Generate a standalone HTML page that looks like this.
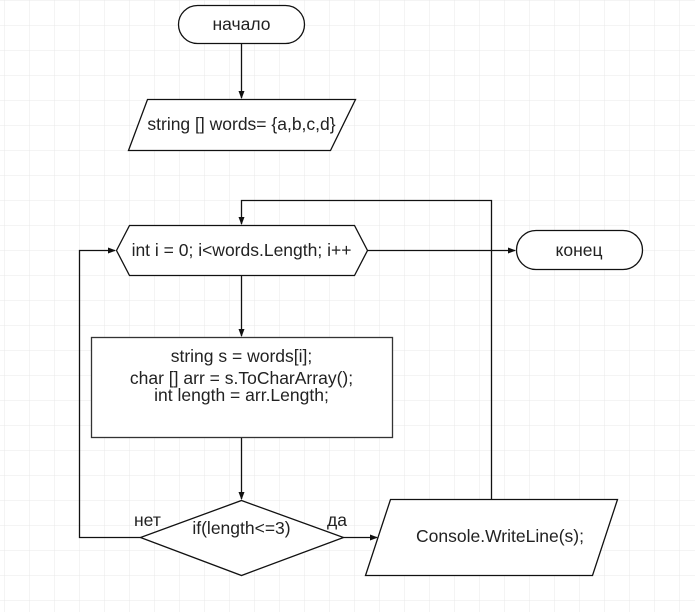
<!DOCTYPE html>
<html><head><meta charset="utf-8"><style>
html,body{margin:0;padding:0;background:#fff;}
svg{display:block;}
text{font-family:"Liberation Sans",Arial,sans-serif;font-size:17.5px;fill:#222;}
</style></head><body>
<svg width="695" height="612" viewBox="0 0 695 612" xmlns="http://www.w3.org/2000/svg">
<defs>
<pattern id="g" x="4" y="0" width="25" height="25" patternUnits="userSpaceOnUse">
<path d="M0 0H25M0 0V25" stroke="#e8e8e8" stroke-width="1" fill="none"/>
</pattern>
<marker id="a" markerWidth="8" markerHeight="8" refX="7" refY="4" orient="auto" markerUnits="userSpaceOnUse">
<path d="M0 1L8 4L0 7Z" fill="#111"/>
</marker>
</defs>
<rect x="0" y="0" width="695" height="612" fill="url(#g)"/>
<g fill="#fff" stroke="#111" stroke-width="1.3">
<rect x="178.5" y="5.5" width="126" height="38" rx="19"/>
<polygon points="147.5,99.5 355.5,99.5 330.5,150.5 128.5,150.5"/>
<polygon points="116.5,250.5 129.5,225.5 354.5,225.5 367.5,250.5 354.5,275.5 129.5,275.5"/>
<rect x="516.5" y="230.5" width="126" height="39" rx="19.5"/>
<rect x="91.5" y="337.5" width="301" height="100" stroke="#333"/>
<polygon points="241.5,500.5 343.5,537.5 241.5,575.5 140.5,537.5"/>
<polygon points="390.5,499.5 617.5,499.5 592.5,575.5 365.5,575.5"/>
</g>
<g fill="none" stroke="#111" stroke-width="1.3">
<path d="M241.5 44V98" marker-end="url(#a)"/>
<path d="M241.5 276V336" marker-end="url(#a)"/>
<path d="M241.5 438V499" marker-end="url(#a)"/>
<path d="M367.5 250.5H515" marker-end="url(#a)"/>
<path d="M491.5 499V200.5H241.5V224" marker-end="url(#a)"/>
<path d="M140.5 537.5H79.5V250.5H115" marker-end="url(#a)"/>
<path d="M343.5 537.5H377" marker-end="url(#a)"/>
</g>
<text x="241.5" y="30" text-anchor="middle">начало</text>
<text x="241.5" y="130" text-anchor="middle">string [] words= {a,b,c,d}</text>
<text x="241.5" y="256" text-anchor="middle">int i = 0; i&lt;words.Length; i++</text>
<text x="579" y="256" text-anchor="middle">конец</text>
<text x="241.5" y="362" text-anchor="middle">string s = words[i];</text>
<text x="241.5" y="384" text-anchor="middle">char [] arr = s.ToCharArray();</text>
<text x="241.5" y="401" text-anchor="middle">int length = arr.Length;</text>
<text x="241.5" y="534" text-anchor="middle">if(length&lt;=3)</text>
<text x="134" y="526">нет</text>
<text x="327" y="526">да</text>
<text x="500" y="542" text-anchor="middle">Console.WriteLine(s);</text>
</svg>
</body></html>
